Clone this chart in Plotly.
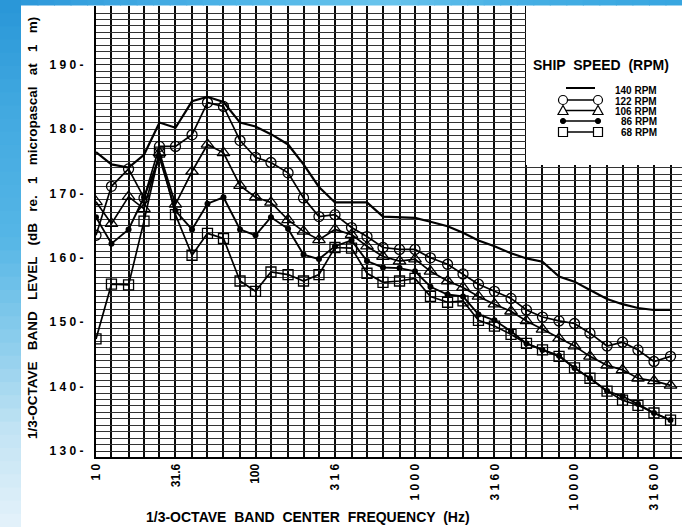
import math
import plotly.graph_objects as go

# ---------------- data ----------------
freqs = [10, 12.5, 16, 20, 25, 31.5, 40, 50, 63, 80, 100, 125, 160, 200, 250, 315,
         400, 500, 630, 800, 1000, 1250, 1600, 2000, 2500, 3150, 4000, 5000, 6300,
         8000, 10000, 12500, 16000, 20000, 25000, 31500, 40000]

rpm140 = [176.4, 174.5, 174.0, 176.0, 181.0, 180.2, 184.3, 185.0, 184.2, 181.0, 180.4,
          179.2, 177.6, 174.5, 171.0, 168.6, 168.6, 168.6, 166.4, 166.3, 166.2, 165.6,
          164.9, 163.9, 162.7, 161.8, 160.7, 159.9, 159.4, 157.1, 156.3, 155.0, 153.6,
          152.8, 152.2, 151.9, 151.9]
rpm122 = [163.5, 171.1, 173.8, 169.3, 177.3, 177.3, 179.1, 184.1, 183.5, 178.2, 175.6,
          174.8, 173.2, 169.3, 166.4, 166.7, 164.7, 163.3, 161.6, 161.3, 161.3, 160.0,
          159.0, 157.5, 155.9, 154.8, 153.7, 151.9, 150.8, 150.2, 149.8, 148.3, 146.3,
          146.9, 145.7, 143.9, 144.7]
rpm106 = [168.7, 165.3, 169.5, 167.6, 176.3, 168.3, 173.4, 177.6, 176.3, 171.2, 169.4,
          168.6, 165.9, 164.1, 162.8, 164.4, 163.6, 161.8, 160.2, 159.5, 159.8, 157.9,
          156.4, 155.4, 154.0, 152.8, 151.7, 150.2, 148.9, 147.5, 146.3, 144.7, 143.3,
          142.6, 141.3, 140.9, 140.2]
rpm86 = [166.3, 162.2, 164.4, 169.4, 175.6, 167.3, 164.4, 168.4, 169.4, 164.4, 163.5,
         166.3, 164.5, 160.5, 159.8, 161.8, 162.7, 159.5, 158.5, 158.4, 157.9, 155.5,
         154.3, 154.0, 151.2, 150.3, 148.6, 146.7, 145.7, 144.8, 142.9, 141.3, 139.3,
         138.5, 137.3, 135.9, 134.8]
rpm68 = [147.4, 155.9, 155.8, 165.7, 176.4, 166.7, 160.4, 163.8, 163.0, 156.4, 154.8,
         157.8, 157.4, 156.4, 157.4, 161.6, 161.5, 157.6, 156.2, 156.4, 156.8, 154.0,
         153.1, 153.3, 150.3, 149.4, 148.1, 146.7, 145.7, 144.7, 142.9, 141.3, 139.3,
         137.9, 137.1, 135.9, 134.8]

series_names = ["140 RPM", "122 RPM", "106 RPM", "86 RPM", "68 RPM"]

x_tickvals = [10, 31.6, 100, 316, 1000, 3160, 10000, 31600]
x_ticktext = ["1 0", "31.6", "100", "3 1 6", "1 0 0 0", "3 1 6 0", "1 0 0 0 0", "3 1 6 0 0"]
y_tickvals = [130, 140, 150, 160, 170, 180, 190]
y_ticktext = ["1 3 0 -", "1 4 0 -", "1 5 0 -", "1 6 0 -", "1 7 0 -", "1 8 0 -", "1 9 0 -"]

x_title = "1/3-OCTAVE  BAND  CENTER  FREQUENCY  (Hz)"
y_title = "1/3-OCTAVE   BAND   LEVEL   (dB   re.   1   micropascal   at   1   m)"
legend_title = "SHIP  SPEED  (RPM)"

# ---------------- layout geometry ----------------
W, H = 682, 527
ML, MR, MT, MB = 96, 0, 6, 70
PW, PH = W - ML - MR, H - MT - MB
PX_PER_DECADE = 159.5


def px(x):
    return (x - ML) / PW


def py(y):
    return (H - MB - y) / PH


FONT = "Liberation Sans, Arial, sans-serif"

fig = go.Figure()

styles = [
    dict(mode="lines", line=dict(color="black", width=2.2)),
    dict(mode="lines+markers", line=dict(color="black", width=1.7),
         marker=dict(symbol="circle-open", size=10, color="black", line=dict(width=1.3))),
    dict(mode="lines+markers", line=dict(color="black", width=1.7),
         marker=dict(symbol="triangle-up-open", size=11, color="black", line=dict(width=1.3))),
    dict(mode="lines+markers", line=dict(color="black", width=1.9),
         marker=dict(symbol="circle", size=6, color="black")),
    dict(mode="lines+markers", line=dict(color="black", width=1.7),
         marker=dict(symbol="square-open", size=10, color="black", line=dict(width=1.3))),
]
for name, ys, st in zip(series_names, [rpm140, rpm122, rpm106, rpm86, rpm68], styles):
    fig.add_trace(go.Scatter(x=freqs, y=ys, name=name, showlegend=False, **st))

shapes = []


def lerp_color(stops, t):
    for (t0, c0), (t1, c1) in zip(stops[:-1], stops[1:]):
        if t0 <= t <= t1:
            f = (t - t0) / (t1 - t0) if t1 > t0 else 0
            c = [round(a + (b - a) * f) for a, b in zip(c0, c1)]
            return "rgb(%d,%d,%d)" % tuple(c)
    return "rgb(%d,%d,%d)" % stops[-1][1]


# left blue strip (vertical gradient)
left_stops = [(0.0, (40, 150, 215)), (0.2, (65, 168, 224)), (0.45, (85, 182, 230)),
              (0.65, (140, 205, 236)), (0.82, (195, 228, 244)), (1.0, (228, 242, 250))]
NB = 40
for k in range(NB):
    y0 = H * k / NB
    y1 = H * (k + 1) / NB + 1
    shapes.append(dict(type="rect", xref="paper", yref="paper", layer="below",
                       x0=px(0), x1=px(21), y0=py(y1), y1=py(y0),
                       fillcolor=lerp_color(left_stops, (k + 0.5) / NB), line=dict(width=0)))
# top blue strip (horizontal gradient)
top_stops = [(0.0, (45, 152, 218)), (0.35, (80, 182, 232)), (0.55, (105, 196, 236)),
             (0.75, (70, 175, 228)), (1.0, (55, 165, 224))]
for k in range(NB):
    x0 = 21 + (W - 21) * k / NB
    x1 = 21 + (W - 21) * (k + 1) / NB + 1
    shapes.append(dict(type="rect", xref="paper", yref="paper", layer="below",
                       x0=px(x0), x1=px(x1), y0=py(5.5), y1=py(0),
                       fillcolor=lerp_color(top_stops, (k + 0.5) / NB), line=dict(width=0)))

# legend box (white panel covering the grid)
shapes.append(dict(type="rect", xref="paper", yref="paper", layer="above",
                   x0=px(526), x1=px(W + 2), y0=py(165), y1=py(6),
                   fillcolor="white", line=dict(width=0)))

key_rows = [88, 100, 110.5, 121, 132]
key_x0, key_x1 = 563, 598
key_syms = [None, "circle", "triangle", "dot", "square"]
for row, sym in zip(key_rows, key_syms):
    if sym is None:
        lx0, lx1, lw = key_x0 + 3, key_x1 - 3, 2
    else:
        lx0, lx1, lw = key_x0, key_x1, 1.6
    shapes.append(dict(type="line", xref="paper", yref="paper", layer="above",
                       x0=px(lx0), x1=px(lx1), y0=py(row), y1=py(row),
                       line=dict(color="black", width=lw)))
    for cx in (key_x0, key_x1):
        base = dict(xref="paper", yref="paper", layer="above", xsizemode="pixel",
                    ysizemode="pixel", xanchor=px(cx), yanchor=py(row))
        if sym == "circle":
            shapes.append(dict(type="circle", x0=-4.5, x1=4.5, y0=-4.5, y1=4.5,
                               fillcolor="white", line=dict(color="black", width=1.2), **base))
        elif sym == "triangle":
            shapes.append(dict(type="path", path="M -5,-4 L 5,-4 L 0,5 Z",
                               fillcolor="white", line=dict(color="black", width=1.2), **base))
        elif sym == "dot":
            shapes.append(dict(type="circle", x0=-2.6, x1=2.6, y0=-2.6, y1=2.6,
                               fillcolor="black", line=dict(color="black", width=1), **base))
        elif sym == "square":
            shapes.append(dict(type="rect", x0=-4.5, x1=4.5, y0=-4.5, y1=4.5,
                               fillcolor="white", line=dict(color="black", width=1.2), **base))

annotations = [
    dict(text=y_title, xref="paper", yref="paper", x=px(33), y=py(228), textangle=-90,
         showarrow=False, xanchor="center", yanchor="middle",
         font=dict(family=FONT, size=13.5, color="black", weight="bold")),
    dict(text=x_title, xref="paper", yref="paper", x=px(308), y=py(517),
         showarrow=False, xanchor="center", yanchor="middle",
         font=dict(family=FONT, size=14, color="black", weight="bold")),
    dict(text=legend_title, xref="paper", yref="paper", x=px(531), y=py(65),
         showarrow=False, xanchor="left", yanchor="middle",
         font=dict(family=FONT, size=14, color="black", weight="bold")),
]
label_rows = [90.5, 101.5, 111.5, 121.5, 132]
for name, row in zip(series_names, label_rows):
    annotations.append(dict(text=name, xref="paper", yref="paper", x=px(659), y=py(row),
                            showarrow=False, xanchor="right", yanchor="middle",
                            font=dict(family=FONT, size=10, color="black", weight="bold")))

fig.update_layout(
    width=W, height=H,
    margin=dict(l=ML, r=MR, t=MT, b=MB, pad=0),
    paper_bgcolor="white", plot_bgcolor="white",
    shapes=shapes, annotations=annotations, showlegend=False,
    font=dict(family=FONT, color="black"),
)
fig.update_xaxes(
    type="log", range=[1, 1 + PW / PX_PER_DECADE],
    tickmode="array", tickvals=x_tickvals, ticktext=x_ticktext, tickangle=-90,
    ticks="", showgrid=False, zeroline=False,
    showline=True, linecolor="black", linewidth=2,
    tickfont=dict(family=FONT, size=12, color="black", weight="bold"),
    minor=dict(tickmode="array", tickvals=freqs + [50000], showgrid=True,
               gridcolor="#0a0a0a", gridwidth=1.6, ticks=""),
)
fig.update_yaxes(
    range=[129.07, 199.1],
    tickmode="array", tickvals=y_tickvals, ticktext=y_ticktext,
    ticks="", ticklabelstandoff=8, showgrid=True, gridcolor="#2a2a2a", gridwidth=1.3,
    zeroline=False, showline=True, linecolor="black", linewidth=2,
    tickfont=dict(family=FONT, size=12, color="black", weight="bold"),
    minor=dict(dtick=1, showgrid=True, gridcolor="#333333", gridwidth=1.2, ticks=""),
)

fig.write_html("out.html")
